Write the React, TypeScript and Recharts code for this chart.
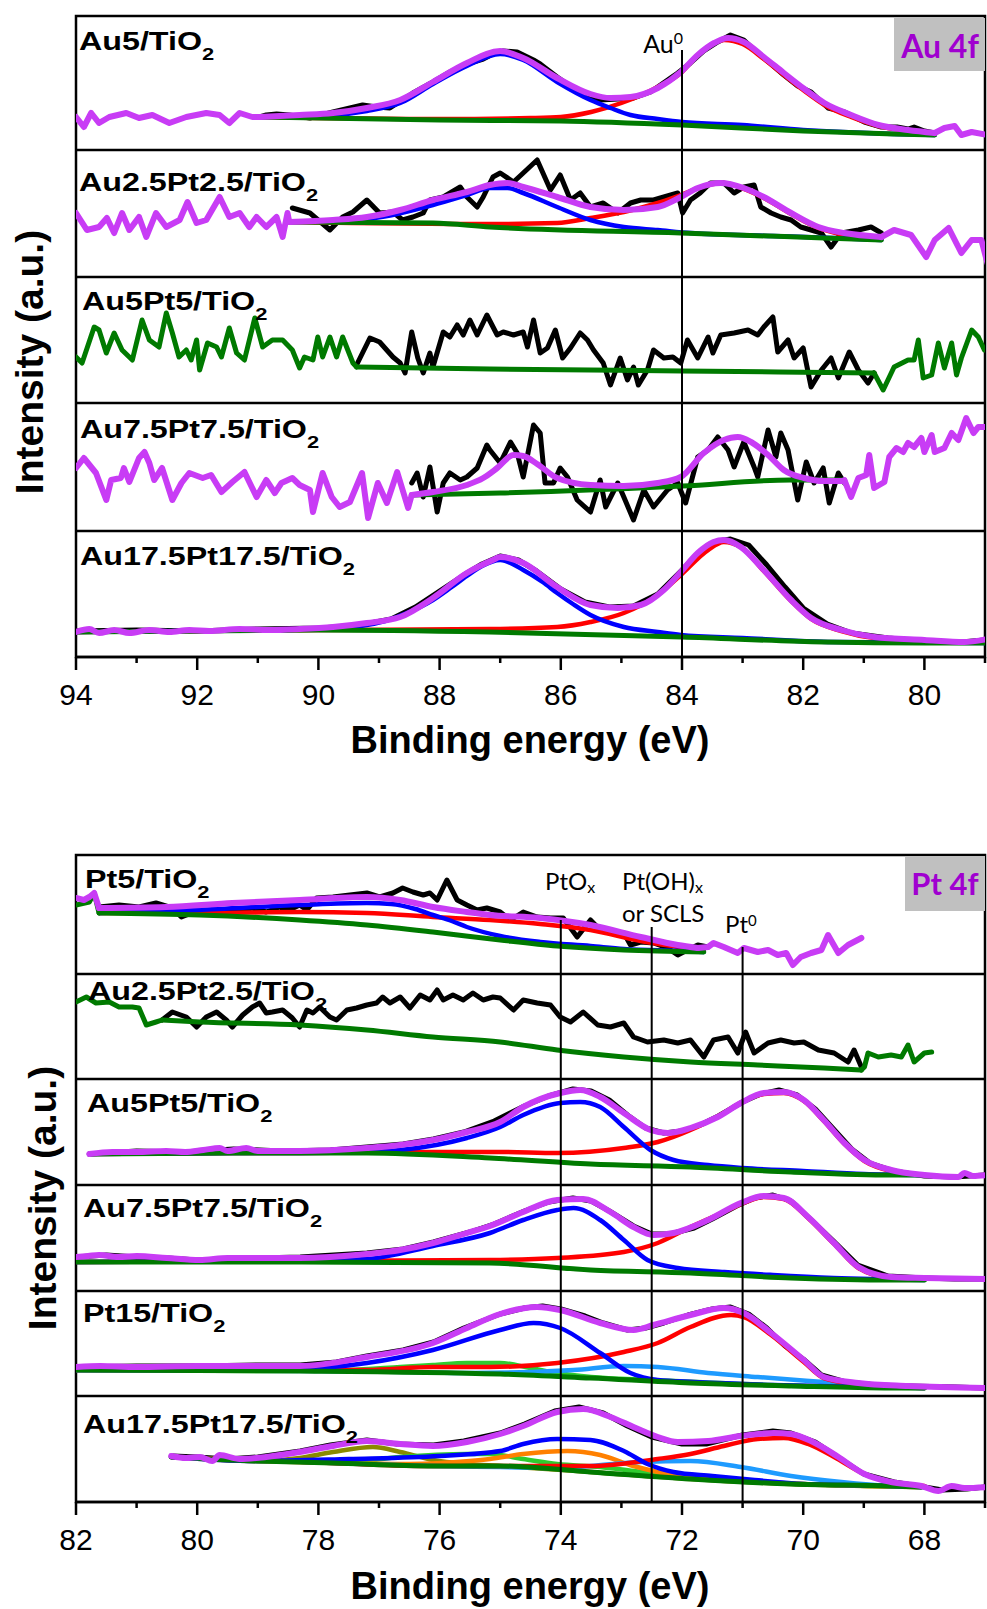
import React from "react"
import { LineChart, Line, XAxis, YAxis, ReferenceLine, ReferenceArea } from "recharts"

type Pt = [number, number]

// ---------- Au 4f panel (binding energy, intensity in px above each row's floor) ----------
const AU_TICKS = [79, 80, 81, 82, 83, 84, 85, 86, 87, 88, 89, 90, 91, 92, 93, 94]

// Au5/TiO2
const AU5_TAIL_L: Pt[] = [[94.0,33],[93.87,23],[93.75,37],[93.62,27],[93.45,33],[93.17,37],[92.96,32],[92.74,35],[92.46,27],[92.18,33],[91.85,37],[91.63,35],[91.47,27],[91.3,37],[91.09,33],[90.97,33]]
const AU5_ENV: Pt[] = [[90.97,33],[90.31,35],[89.76,37],[89.2,42],[88.65,50],[88.11,68],[87.55,87],[87.0,99],[86.62,92],[86.06,72],[85.51,56],[85.18,52],[84.85,53],[84.4,62],[84.02,78],[83.74,95],[83.47,107],[83.24,112],[82.98,108],[82.65,93],[82.32,77],[81.98,61],[81.65,47],[81.21,35],[80.76,25],[80.27,20],[79.83,17]]
const AU5_TAIL_R: Pt[] = [[79.83,17],[79.67,22],[79.5,24],[79.39,15],[79.22,18],[78.96,15]]
const AU5_RAW: Pt[] = [[90.97,33],[90.86,35],[90.69,36],[90.48,35],[90.14,32],[89.76,38],[89.48,42],[89.27,45],[89.04,43],[88.82,42],[88.44,57],[88.11,68],[87.83,78],[87.55,86],[87.28,91],[87.12,96],[86.95,99],[86.72,98],[86.45,90],[86.34,86],[86.06,73],[85.89,66],[85.56,55],[85.35,50],[85.06,51],[84.8,52],[84.52,58],[84.19,72],[84.07,77],[83.86,87],[83.64,99],[83.41,108],[83.2,115],[82.98,110],[82.75,97],[82.53,86],[82.32,75],[82.09,64],[81.87,58],[81.59,42],[81.32,38],[80.99,28],[80.71,23],[80.45,23],[80.27,21],[80.17,23],[80.0,19],[79.83,17]]
const AU5_BG: Pt[] = [[90.97,33],[88.0,30],[86.0,29],[84.0,25],[82.0,19],[80.5,16],[79.83,15]]
const AU5_RED: Pt[] = [[90.97,33],[88.0,31],[86.5,32],[86.0,33],[85.5,38],[85.0,47],[84.4,63],[84.0,78],[83.74,95],[83.5,106],[83.3,110],[83.0,106],[82.65,91],[82.32,75],[81.98,59],[81.65,45],[81.21,33],[80.76,24],[80.27,19],[79.83,16]]
const AU5_BLUE: Pt[] = [[90.97,33],[89.76,35],[89.2,39],[88.65,47],[88.11,66],[87.55,84],[87.0,96],[86.62,90],[86.06,68],[85.51,50],[85.18,42],[84.85,35],[84.4,31],[84.0,28],[83.0,25],[82.0,20],[80.5,16],[79.83,15]]

// Au2.5Pt2.5/TiO2
const AU25_TAIL_L: Pt[] = [[94.0,64],[93.82,47],[93.62,50],[93.49,59],[93.37,44],[93.24,64],[93.12,47],[92.96,60],[92.84,40],[92.68,64],[92.51,50],[92.29,57],[92.16,75],[92.01,54],[91.85,57],[91.63,80],[91.47,60],[91.3,64],[91.14,50],[91.02,60],[90.86,50],[90.69,60],[90.59,40],[90.51,64],[90.48,55]]
const AU25_ENV: Pt[] = [[90.48,55],[89.76,57],[89.2,60],[88.65,67],[88.11,77],[87.55,85],[87.17,92],[86.88,94],[86.62,90],[86.06,80],[85.51,70],[84.96,67],[84.4,70],[84.02,80],[83.74,89],[83.36,94],[82.98,89],[82.65,80],[82.2,64],[81.75,50],[81.32,44],[80.71,40]]
const AU25_TAIL_R: Pt[] = [[80.71,40],[80.5,47],[80.22,42],[79.97,20],[79.83,37],[79.6,49],[79.39,24],[79.22,37],[79.06,37],[78.96,14]]
const AU25_RAW: Pt[] = [[90.43,69],[90.14,64],[89.81,47],[89.6,60],[89.43,65],[89.2,77],[88.99,64],[88.77,65],[88.61,57],[88.44,60],[88.27,64],[88.16,77],[87.94,80],[87.66,90],[87.55,80],[87.38,70],[87.28,80],[87.12,100],[87.0,104],[86.78,95],[86.62,104],[86.39,117],[86.17,87],[86.01,102],[85.84,77],[85.68,84],[85.51,70],[85.3,74],[85.06,64],[84.85,74],[84.68,77],[84.47,77],[84.3,80],[84.07,84],[83.99,64],[83.86,77],[83.7,84],[83.53,94],[83.31,94],[83.14,84],[82.98,90],[82.81,92],[82.7,70],[82.53,64],[82.37,60],[82.2,57],[82.04,50],[81.87,47],[81.7,44],[81.54,30],[81.37,44],[81.09,47],[80.88,50],[80.71,44]]
const AU25_BG: Pt[] = [[90.48,55],[88.11,54],[87.17,50],[84.02,44],[81.65,39],[80.71,37]]
const AU25_RED: Pt[] = [[90.48,55],[87.17,53],[86.06,54],[85.51,59],[84.96,65],[84.4,74],[84.02,82],[83.57,92],[83.31,94],[82.98,88],[82.65,79],[82.2,63],[81.75,49],[81.32,42],[80.71,38]]
const AU25_BLUE: Pt[] = [[90.48,55],[89.2,58],[88.11,72],[87.55,82],[87.17,89],[86.88,89],[86.62,84],[86.06,70],[85.51,57],[84.96,50],[84.4,47],[83.86,44],[82.5,41],[81.5,39],[80.71,37]]

// Au5Pt5/TiO2
const AU55_TAIL_L: Pt[] = [[94.0,46],[93.9,40],[93.7,76],[93.62,73],[93.5,50],[93.37,70],[93.24,53],[93.07,43],[92.91,83],[92.79,63],[92.63,56],[92.51,90],[92.41,70],[92.3,46],[92.18,53],[92.1,43],[92.01,63],[91.96,33],[91.83,60],[91.68,56],[91.6,46],[91.47,75],[91.35,50],[91.22,43],[91.05,85],[90.92,56],[90.76,63],[90.59,63],[90.43,53],[90.31,35],[90.23,46],[90.09,43],[90.01,66],[89.93,46],[89.81,66],[89.7,46],[89.6,66],[89.43,40],[89.37,36]]
const AU55_BG: Pt[] = [[89.37,36],[87.17,34],[84.0,32],[80.83,30]]
const AU55_TAIL_R: Pt[] = [[80.83,30],[80.68,13],[80.5,36],[80.27,43],[80.17,43],[80.1,63],[80.02,25],[79.88,28],[79.77,60],[79.67,35],[79.55,60],[79.47,28],[79.39,45],[79.22,73],[79.11,66],[79.01,53],[78.96,56]]
const AU55_RAW: Pt[] = [[89.37,38],[89.15,65],[88.99,61],[88.77,46],[88.65,40],[88.57,30],[88.46,71],[88.36,45],[88.27,30],[88.16,50],[88.11,36],[87.94,71],[87.83,66],[87.71,78],[87.61,68],[87.5,83],[87.38,68],[87.22,88],[87.05,68],[86.95,71],[86.78,68],[86.62,71],[86.55,56],[86.45,83],[86.34,50],[86.22,55],[86.09,73],[85.97,45],[85.84,55],[85.68,70],[85.56,63],[85.46,53],[85.3,40],[85.18,18],[85.02,45],[84.9,23],[84.8,36],[84.72,18],[84.57,33],[84.47,53],[84.3,45],[84.15,46],[84.02,40],[83.91,63],[83.74,45],[83.57,66],[83.49,50],[83.36,68],[83.14,70],[82.91,73],[82.75,68],[82.65,76],[82.5,86],[82.42,51],[82.25,63],[82.15,45],[82.0,55],[81.87,16],[81.7,33],[81.54,45],[81.42,25],[81.24,51],[81.09,33],[80.93,20],[80.83,30]]

// Au7.5Pt7.5/TiO2
const AU75_TAIL_L: Pt[] = [[94.0,63],[93.87,73],[93.67,58],[93.5,31],[93.42,51],[93.26,53],[93.21,63],[93.12,49],[92.96,73],[92.87,79],[92.79,68],[92.71,51],[92.58,63],[92.41,31],[92.26,48],[92.13,58],[91.91,53],[91.77,56],[91.6,39],[91.42,49],[91.22,59],[91.02,34],[90.86,51],[90.72,38],[90.61,48],[90.43,53],[90.31,46],[90.14,41],[90.09,19],[89.93,58],[89.78,34],[89.65,24],[89.48,29],[89.28,58],[89.18,13],[89.02,48],[88.87,28],[88.7,59],[88.52,23],[88.46,36]]
const AU75_ENV: Pt[] = [[88.46,36],[88.11,39],[87.55,46],[87.28,53],[87.05,63],[86.78,76],[86.62,75],[86.39,67],[86.06,53],[85.51,46],[84.96,45],[84.4,48],[84.02,54],[83.64,78],[83.31,91],[83.08,94],[82.86,89],[82.58,76],[82.32,61],[81.99,53],[81.66,50],[81.32,50]]
const AU75_TAIL_R: Pt[] = [[81.32,51],[81.21,34],[81.09,53],[80.96,56],[80.91,76],[80.83,43],[80.66,49],[80.58,74],[80.46,83],[80.35,79],[80.27,88],[80.17,84],[80.05,93],[80.0,79],[79.88,96],[79.83,79],[79.67,83],[79.55,98],[79.44,91],[79.31,113],[79.19,98],[79.11,104],[78.96,104]]
const AU75_RAW: Pt[] = [[88.46,48],[88.37,58],[88.27,34],[88.16,64],[88.04,19],[87.94,48],[87.83,58],[87.66,51],[87.55,54],[87.38,63],[87.22,86],[87.17,81],[87.0,68],[86.83,89],[86.72,78],[86.62,54],[86.45,106],[86.34,98],[86.26,48],[86.12,48],[86.01,63],[85.89,54],[85.73,31],[85.51,19],[85.35,51],[85.26,24],[85.06,48],[84.96,34],[84.8,11],[84.63,41],[84.47,24],[84.24,41],[84.07,48],[83.94,28],[83.74,74],[83.57,81],[83.41,94],[83.24,81],[83.14,64],[82.98,89],[82.81,64],[82.75,54],[82.58,101],[82.45,74],[82.37,98],[82.25,81],[82.09,31],[81.95,69],[81.82,48],[81.67,63],[81.57,28],[81.42,58],[81.32,48]]
const AU75_BG: Pt[] = [[88.46,36],[87.0,38],[84.0,45],[82.2,51],[81.32,51]]

// Au17.5Pt17.5/TiO2
const AU175_ENV: Pt[] = [[94.0,25],[93.78,28],[93.62,24],[93.37,27],[93.12,24],[92.79,27],[92.46,25],[92.13,27],[91.8,26],[91.3,28],[90.81,27],[90.31,28],[89.76,30],[89.2,34],[88.65,40],[88.11,59],[87.55,84],[87.12,97],[87.0,100],[86.62,94],[86.06,70],[85.51,52],[85.06,49],[84.68,52],[84.3,67],[84.02,85],[83.74,104],[83.48,115],[83.31,117],[83.03,110],[82.65,87],[82.2,57],[81.87,39],[81.37,27],[80.83,20],[80.0,17],[79.34,15],[78.96,18]]
const AU175_RAW: Pt[] = [[94.0,26],[93.0,27],[92.0,26],[91.0,28],[90.0,29],[89.4,31],[88.8,38],[88.4,50],[88.0,66],[87.6,82],[87.3,93],[87.0,101],[86.7,97],[86.4,86],[86.0,68],[85.6,55],[85.2,50],[84.8,51],[84.4,63],[84.0,87],[83.7,106],[83.4,116],[83.2,118],[82.9,112],[82.6,92],[82.3,70],[82.0,49],[81.6,33],[81.2,24],[80.6,19],[80.0,16],[79.4,15],[79.0,17]]
const AU175_BG: Pt[] = [[94.0,25],[90.0,27],[87.17,25],[84.0,20],[81.66,15],[80.0,14],[79.0,14]]
const AU175_RED: Pt[] = [[94.0,25],[90.0,27],[87.17,28],[86.06,30],[85.51,35],[84.96,44],[84.4,62],[84.02,82],[83.57,107],[83.31,115],[83.03,110],[82.65,86],[82.2,56],[81.87,38],[81.37,26],[80.83,19],[80.0,16],[79.0,15]]
const AU175_BLUE: Pt[] = [[94.0,25],[90.5,27],[89.8,29],[89.3,31],[88.9,36],[88.5,45],[88.11,57],[87.8,70],[87.55,81],[87.3,91],[87.0,97],[86.62,87],[86.3,75],[86.06,64],[85.8,53],[85.51,42],[84.96,30],[84.4,25],[84.02,22],[83.0,19],[81.5,15],[79.0,14]]

// ---------- Pt 4f panel ----------
const PT_TICKS = [67, 68, 69, 70, 71, 72, 73, 74, 75, 76, 77, 78, 79, 80, 81, 82]

// Pt5/TiO2
const PT5_TAIL_L: Pt[] = [[82.0,76],[81.87,74],[81.78,77],[81.7,81],[81.62,66]]
const PT5_BG_L: Pt[] = [[82.0,69],[81.78,72],[81.7,81],[81.62,61]]
const PT5_ENV: Pt[] = [[81.62,66],[80.51,67],[79.42,71],[78.31,74],[77.2,77],[76.65,74],[76.11,67],[75.55,62],[75.17,59],[74.34,56],[73.51,49],[72.68,37],[72.07,29],[71.74,26]]
const PT5_TAIL_R: Pt[] = [[71.74,26],[71.57,27],[71.48,31],[71.31,27],[71.08,21],[70.98,26],[70.75,22],[70.58,24],[70.42,19],[70.28,21],[70.17,9],[70.04,17],[69.87,21],[69.7,24],[69.59,39],[69.42,21],[69.26,29],[69.04,36]]
const PT5_RAW: Pt[] = [[81.62,67],[81.29,69],[80.96,67],[80.68,71],[80.41,66],[80.26,57],[79.96,64],[79.42,62],[79.09,66],[78.86,62],[78.64,67],[78.48,64],[78.31,69],[78.19,64],[78.03,76],[77.76,77],[77.48,79],[77.2,81],[76.99,77],[76.77,81],[76.61,86],[76.44,82],[76.27,79],[76.16,81],[76.04,74],[75.88,94],[75.71,74],[75.55,69],[75.38,64],[75.22,66],[75.0,62],[74.83,54],[74.62,62],[74.39,57],[74.17,56],[73.96,56],[73.73,37],[73.51,54],[73.35,44],[73.18,42],[72.96,41],[72.85,29],[72.68,32],[72.47,31],[72.24,26],[72.07,19],[71.91,24],[71.74,29],[71.57,27]]
const PT5_BG: Pt[] = [[81.62,61],[79.96,59],[78.31,54],[77.2,49],[76.11,42],[75.0,34],[74.06,28],[72.96,24],[71.64,22]]
const PT5_RED: Pt[] = [[81.62,61],[79.96,61],[78.31,62],[77.2,61],[76.11,57],[75.17,54],[74.34,50],[73.51,44],[72.68,33],[72.07,27],[71.64,23]]
const PT5_BLUE: Pt[] = [[81.62,61],[80.0,64],[78.31,69],[77.2,71],[76.8,70],[76.4,65],[76.11,59],[75.8,53],[75.55,47],[75.0,38],[74.34,32],[73.51,28],[72.96,25],[72.0,23],[71.64,22]]

// Au2.5Pt2.5/TiO2
const PT25_BG_L: Pt[] = [[82.0,77],[81.83,82],[81.67,76],[81.45,77],[81.29,72],[81.07,72],[80.96,71],[80.84,54],[80.68,57],[80.58,59]]
const PT25_BG: Pt[] = [[80.58,59],[79.96,57],[78.31,54],[77.2,49],[76.11,42],[75.0,37],[74.06,29],[72.96,22],[71.86,17],[70.75,14],[69.66,11],[69.04,9]]
const PT25_BG_R: Pt[] = [[69.04,9],[68.99,12],[68.93,26],[68.76,22],[68.55,24],[68.38,22],[68.27,34],[68.17,17],[68.0,26],[67.88,27]]
const PT25_RAW: Pt[] = [[80.58,59],[80.41,67],[80.18,62],[80.01,52],[79.85,62],[79.68,67],[79.52,59],[79.42,52],[79.25,64],[79.09,72],[78.97,76],[78.86,66],[78.76,67],[78.59,69],[78.43,61],[78.31,52],[78.19,69],[78.09,66],[77.98,72],[77.81,62],[77.7,59],[77.53,69],[77.37,71],[77.2,74],[77.04,76],[76.94,82],[76.82,76],[76.65,82],[76.49,71],[76.32,84],[76.16,79],[76.04,89],[75.94,79],[75.78,84],[75.61,79],[75.45,86],[75.28,79],[75.12,82],[75.0,81],[74.78,69],[74.62,79],[74.39,76],[74.17,74],[74.01,62],[73.84,57],[73.63,67],[73.39,54],[73.18,52],[72.96,56],[72.8,42],[72.57,37],[72.3,39],[72.07,36],[71.86,39],[71.64,22],[71.48,39],[71.24,42],[71.08,26],[70.95,47],[70.81,26],[70.58,36],[70.37,39],[70.15,36],[69.99,37],[69.75,29],[69.49,26],[69.26,17],[69.16,29],[69.04,12]]

// Au5Pt5/TiO2
const PT55_ENV: Pt[] = [[81.78,31],[81.4,33],[81.0,33],[80.51,34],[80.2,33],[79.9,35],[79.63,37],[79.5,34],[79.19,37],[79.0,34],[78.31,34],[77.2,37],[76.65,40],[76.11,45],[75.55,53],[75.0,63],[74.62,78],[74.01,92],[73.68,95],[73.35,88],[72.96,72],[72.52,55],[72.24,52],[71.86,57],[71.41,68],[71.03,82],[70.65,92],[70.32,93],[69.99,85],[69.66,65],[69.32,42],[68.99,25],[68.55,15],[68.0,10],[67.44,8],[67.34,12],[67.2,9],[66.96,10]]
const PT55_RAW: Pt[] = [[81.78,31],[81.0,34],[80.2,33],[79.4,36],[78.6,34],[77.8,35],[77.2,38],[76.6,41],[76.1,46],[75.6,53],[75.1,64],[74.6,79],[74.2,89],[73.8,96],[73.5,94],[73.2,85],[72.9,70],[72.6,57],[72.3,52],[72.0,54],[71.7,60],[71.4,69],[71.0,83],[70.7,91],[70.4,95],[70.1,90],[69.8,76],[69.5,56],[69.2,36],[68.9,22],[68.5,14],[68.0,9],[67.5,8],[67.0,10]]
const PT55_BG: Pt[] = [[81.78,31],[79.42,32],[77.2,32],[75.17,27],[73.51,21],[71.86,18],[70.2,13],[68.55,10],[68.0,10]]
const PT55_RED: Pt[] = [[81.78,31],[79.42,32],[78.31,32],[76.11,33],[75.0,33],[74.06,32],[72.96,37],[72.4,43],[71.86,55],[71.31,72],[70.98,84],[70.65,91],[70.32,92],[69.99,84],[69.66,64],[69.32,41],[68.99,24],[68.55,14],[68.0,10]]
const PT55_BLUE: Pt[] = [[81.78,31],[79.42,32],[78.31,32],[77.2,33],[76.65,35],[75.55,47],[75.0,58],[74.62,70],[74.01,82],[73.68,83],[73.35,78],[72.96,58],[72.52,35],[72.14,25],[71.57,20],[71.0,17],[70.0,14],[69.0,11],[68.0,10]]

// Au7.5Pt7.5/TiO2
const PT75_ENV: Pt[] = [[82.0,34],[81.8,35],[81.62,36],[81.3,34],[81.0,35],[80.5,33],[79.96,31],[79.5,33],[78.31,33],[77.2,37],[76.65,41],[76.11,48],[75.55,58],[75.17,65],[74.62,79],[74.06,91],[73.63,92],[73.18,79],[72.8,64],[72.47,56],[72.14,58],[71.57,71],[71.03,88],[70.65,95],[70.32,93],[69.92,74],[69.49,48],[69.09,24],[68.55,14],[68.0,13],[66.96,12]]
const PT75_RAW: Pt[] = [[82.0,34],[81.5,36],[81.0,34],[80.5,33],[80.0,31],[79.0,33],[78.3,34],[77.2,38],[76.6,42],[76.1,49],[75.5,59],[75.1,67],[74.6,80],[74.2,89],[73.8,93],[73.5,90],[73.2,80],[72.8,65],[72.5,57],[72.2,57],[71.8,63],[71.5,72],[71.1,85],[70.8,93],[70.5,96],[70.2,90],[69.9,73],[69.5,50],[69.1,26],[68.6,15],[68.0,13],[67.5,12],[67.0,12]]
const PT75_BG: Pt[] = [[82.0,29],[78.31,29],[75.17,28],[73.51,21],[71.86,18],[70.2,13],[68.55,11],[68.0,11]]
const PT75_RED: Pt[] = [[82.0,29],[78.31,30],[75.17,31],[74.06,33],[72.96,39],[72.4,48],[71.86,64],[71.31,79],[70.98,88],[70.65,94],[70.32,92],[69.92,73],[69.49,47],[69.09,23],[68.55,13],[68.0,12]]
const PT75_BLUE: Pt[] = [[82.0,29],[78.31,30],[77.2,32],[76.11,45],[75.17,58],[74.62,71],[74.06,81],[73.79,83],[73.35,71],[72.96,51],[72.57,31],[72.07,23],[71.3,19],[70.5,16],[69.5,13],[68.0,11]]

// Pt15/TiO2
const PT15_ENV: Pt[] = [[82.0,29],[81.6,30],[81.0,29],[80.0,30],[79.0,30],[78.31,30],[77.2,39],[76.11,53],[75.55,68],[75.0,82],[74.39,89],[74.01,86],[73.35,73],[72.8,66],[72.47,71],[71.86,81],[71.31,88],[70.98,83],[70.53,63],[69.99,36],[69.66,19],[69.09,13],[68.27,10],[66.96,8]]
const PT15_RAW: Pt[] = [[82.0,29],[81.0,30],[80.0,30],[79.0,31],[78.3,31],[77.7,34],[77.2,40],[76.6,46],[76.1,54],[75.6,68],[75.0,82],[74.6,88],[74.3,90],[74.0,87],[73.6,80],[73.3,73],[72.9,66],[72.6,68],[72.3,73],[71.9,81],[71.5,87],[71.2,89],[70.9,82],[70.6,68],[70.3,50],[70.0,37],[69.7,21],[69.3,14],[68.8,11],[68.3,10],[67.5,9],[67.0,8]]
const PT15_BG: Pt[] = [[82.0,26],[78.31,25],[75.0,22],[73.51,18],[71.86,13],[70.2,10],[68.55,8],[68.0,8]]
const PT15_RED: Pt[] = [[82.0,26],[79.0,26],[77.2,26],[76.11,29],[75.17,29],[74.06,33],[72.96,44],[72.4,53],[71.86,69],[71.19,81],[70.98,79],[70.53,61],[69.99,34],[69.66,18],[69.09,12],[68.5,9],[68.0,8]]
const PT15_BLUE: Pt[] = [[82.0,26],[79.5,26],[78.31,27],[77.2,33],[76.11,46],[75.0,66],[74.45,73],[74.01,68],[73.35,43],[72.85,23],[72.4,16],[71.8,14],[70.5,11],[69.0,9],[68.0,8]]
const PT15_CYAN: Pt[] = [[82.0,26],[78.0,25],[76.5,24],[75.5,23],[74.5,24],[73.79,26],[72.96,30],[72.4,29],[71.57,23],[70.75,19],[69.66,14],[69.0,11],[68.5,9],[68.0,8]]
const PT15_LIME: Pt[] = [[82.0,26],[79.0,25],[77.5,26],[76.65,29],[76.11,31],[75.55,33],[75.0,33],[74.5,28],[74.06,23],[73.5,19],[72.5,16],[71.0,12],[68.0,8]]

// Au17.5Pt17.5/TiO2
const PT175_ENV: Pt[] = [[80.43,46],[80.18,44],[79.96,45],[79.75,41],[79.63,47],[79.3,43],[78.86,45],[78.31,50],[77.76,56],[77.2,61],[76.65,58],[76.11,56],[75.55,60],[75.0,68],[74.62,76],[74.06,90],[73.63,93],[73.18,85],[72.8,75],[72.4,65],[72.07,60],[71.57,61],[71.03,66],[70.48,69],[70.2,68],[69.87,61],[69.42,45],[68.99,28],[68.55,20],[68.05,16],[67.77,11],[67.55,16],[67.34,14],[66.96,15]]
const PT175_RAW: Pt[] = [[80.4,46],[80.0,45],[79.5,43],[79.0,45],[78.3,51],[77.8,57],[77.2,62],[76.7,58],[76.1,57],[75.6,61],[75.0,69],[74.6,78],[74.1,91],[73.7,95],[73.3,89],[72.9,76],[72.5,65],[72.0,58],[71.6,58],[71.0,67],[70.5,71],[70.2,69],[69.8,60],[69.4,44],[69.0,28],[68.5,20],[68.0,15],[67.7,12],[67.3,13],[67.0,15]]
const PT175_BG: Pt[] = [[80.43,45],[79.0,41],[77.76,39],[76.11,36],[75.0,36],[73.51,30],[71.86,23],[70.2,18],[68.55,16],[68.05,15]]
const PT175_OLIVE: Pt[] = [[80.43,45],[79.0,41],[78.31,44],[77.76,50],[77.1,55],[76.65,50],[76.11,42],[75.55,38],[75.0,36],[73.51,30],[71.86,23],[70.2,18],[68.05,15]]
const PT175_BLUE: Pt[] = [[80.43,45],[79.0,41],[77.5,43],[76.0,46],[75.0,51],[74.62,58],[74.06,63],[73.51,62],[72.96,51],[72.57,38],[72.14,30],[71.5,26],[70.8,22],[70.0,18],[68.5,16],[68.05,15]]
const PT175_ORANGE: Pt[] = [[80.43,45],[79.0,41],[77.76,39],[76.5,38],[75.5,41],[75.17,43],[74.62,48],[73.89,51],[73.35,47],[72.8,36],[72.4,30],[72.07,26],[71.7,24],[71.0,21],[70.0,18],[68.05,15]]
const PT175_LIME: Pt[] = [[80.43,45],[79.0,41],[77.5,40],[76.65,45],[75.55,48],[75.17,48],[74.62,43],[74.06,38],[73.35,35],[72.8,31],[72.0,26],[71.0,21],[70.0,18],[68.05,15]]
const PT175_RED: Pt[] = [[80.43,45],[77.76,39],[76.11,36],[75.0,36],[73.51,36],[72.4,43],[71.86,48],[71.31,56],[70.75,63],[70.32,64],[69.92,58],[69.49,45],[68.99,28],[68.55,20],[68.0,16]]
const PT175_CYAN: Pt[] = [[80.43,45],[77.76,39],[76.11,36],[75.0,35],[74.0,34],[73.51,36],[72.68,40],[71.86,41],[71.03,35],[70.2,26],[69.37,20],[68.55,16],[68.0,15]]

// ---------- styling ----------
const MAG = "#c83cf5"
const GREEN = "#007a00"
const ARIAL = "'Liberation Sans', Arial, sans-serif"
const CALIBRI = "Lato, 'Open Sans', sans-serif"

type Kind = "raw" | "bgRaw" | "bg" | "olive" | "lime" | "orange" | "cyan" | "red" | "blue" | "tail" | "env"
const STYLES: Record<Kind, { color: string; width: number; curve: "linear" | "monotone" }> = {
    raw: { color: "#000", width: 5, curve: "linear" },
    bgRaw: { color: GREEN, width: 5, curve: "linear" },
    bg: { color: GREEN, width: 5, curve: "monotone" },
    olive: { color: "#8a8a00", width: 4.5, curve: "monotone" },
    lime: { color: "#2fcc2f", width: 4.5, curve: "monotone" },
    orange: { color: "#ff8000", width: 4.5, curve: "monotone" },
    cyan: { color: "#1e9bff", width: 4.5, curve: "monotone" },
    red: { color: "#ff0000", width: 4.5, curve: "monotone" },
    blue: { color: "#0000ff", width: 4.5, curve: "monotone" },
    tail: { color: MAG, width: 6, curve: "linear" },
    env: { color: MAG, width: 6, curve: "monotone" },
}
// components first, background on top of them, fitted envelope last
const KIND_ORDER: Kind[] = ["raw", "olive", "lime", "orange", "cyan", "red", "blue", "bg", "bgRaw", "tail", "env"]

interface Row { offset: number; series: [Pt[], Kind][] }

const AU_ROWS: Row[] = [
    { offset: 507, series: [[AU5_RAW, "raw"], [AU5_BG, "bg"], [AU5_RED, "red"], [AU5_BLUE, "blue"], [AU5_TAIL_L, "tail"], [AU5_TAIL_R, "tail"], [AU5_ENV, "env"]] },
    { offset: 380, series: [[AU25_RAW, "raw"], [AU25_BG, "bg"], [AU25_RED, "red"], [AU25_BLUE, "blue"], [AU25_TAIL_L, "tail"], [AU25_TAIL_R, "tail"], [AU25_ENV, "env"]] },
    { offset: 254, series: [[AU55_RAW, "raw"], [AU55_TAIL_L, "bgRaw"], [AU55_TAIL_R, "bgRaw"], [AU55_BG, "bg"]] },
    { offset: 126, series: [[AU75_RAW, "raw"], [AU75_BG, "bg"], [AU75_TAIL_L, "tail"], [AU75_TAIL_R, "tail"], [AU75_ENV, "env"]] },
    { offset: 0, series: [[AU175_RAW, "raw"], [AU175_BG, "bg"], [AU175_RED, "red"], [AU175_BLUE, "blue"], [AU175_ENV, "env"]] },
]

const PT_ROWS: Row[] = [
    { offset: 528, series: [[PT5_RAW, "raw"], [PT5_BG_L, "bgRaw"], [PT5_BG, "bg"], [PT5_RED, "red"], [PT5_BLUE, "blue"], [PT5_TAIL_L, "tail"], [PT5_TAIL_R, "tail"], [PT5_ENV, "env"]] },
    { offset: 423, series: [[PT25_RAW, "raw"], [PT25_BG_L, "bgRaw"], [PT25_BG_R, "bgRaw"], [PT25_BG, "bg"]] },
    { offset: 317, series: [[PT55_RAW, "raw"], [PT55_BG, "bg"], [PT55_RED, "red"], [PT55_BLUE, "blue"], [PT55_ENV, "env"]] },
    { offset: 211, series: [[PT75_RAW, "raw"], [PT75_BG, "bg"], [PT75_RED, "red"], [PT75_BLUE, "blue"], [PT75_ENV, "env"]] },
    { offset: 106, series: [[PT15_RAW, "raw"], [PT15_BG, "bg"], [PT15_LIME, "lime"], [PT15_CYAN, "cyan"], [PT15_RED, "red"], [PT15_BLUE, "blue"], [PT15_ENV, "env"]] },
    { offset: 0, series: [[PT175_RAW, "raw"], [PT175_BG, "bg"], [PT175_OLIVE, "olive"], [PT175_LIME, "lime"], [PT175_ORANGE, "orange"], [PT175_CYAN, "cyan"], [PT175_RED, "red"], [PT175_BLUE, "blue"], [PT175_ENV, "env"]] },
]

function EnergyTick(props: any) {
    const { x, y, payload } = props
    const major = payload.value % 2 === 0
    return (
        <g>
            <line x1={x} x2={x} y1={y} y2={y + (major ? 13 : 6)} stroke="#000" strokeWidth={2.5} />
            {major && (
                <text x={x} y={y + 48} textAnchor="middle" fontSize={30} fontFamily={ARIAL} fill="#000">
                    {payload.value}
                </text>
            )}
        </g>
    )
}

interface PanelProps {
    rows: Row[]
    domain: [number, number]
    ticks: number[]
    plotHeight: number
    marginTop: number
    top: number
    marks: { e: number; top: number }[]
}

function SpectraPanel({ rows, domain, ticks, plotHeight, marginTop, top, marks }: PanelProps) {
    const lines: { key: string; kind: Kind; data: { e: number; v: number }[] }[] = []
    rows.forEach((row, r) =>
        row.series.forEach(([pts, kind], s) =>
            lines.push({ key: `r${r}s${s}`, kind, data: pts.map(([e, v]) => ({ e, v: v + row.offset })) })
        )
    )
    lines.sort((a, b) => KIND_ORDER.indexOf(a.kind) - KIND_ORDER.indexOf(b.kind))
    const bounds = rows.slice(0, -1).map(r => r.offset)

    return (
        <div style={{ position: "absolute", left: 0, top }}>
            <LineChart width={987} height={marginTop + plotHeight + 63} margin={{ top: marginTop, right: 2, bottom: 0, left: 76 }}>
                <XAxis
                    type="number"
                    dataKey="e"
                    domain={domain}
                    reversed
                    allowDataOverflow
                    ticks={ticks}
                    interval={0}
                    tickSize={0}
                    tickMargin={0}
                    tickLine={false}
                    tick={<EnergyTick />}
                    axisLine={{ stroke: "#000", strokeWidth: 2.5 }}
                    height={63}
                />
                <YAxis hide type="number" domain={[0, plotHeight]} allowDataOverflow />
                {lines.map(l => {
                    const st = STYLES[l.kind]
                    return (
                        <Line
                            key={l.key}
                            data={l.data}
                            dataKey="v"
                            type={st.curve}
                            stroke={st.color}
                            strokeWidth={st.width}
                            strokeLinejoin="round"
                            strokeLinecap="round"
                            dot={false}
                            activeDot={false}
                            isAnimationActive={false}
                        />
                    )
                })}
                {bounds.map(b => (
                    <ReferenceLine key={`b${b}`} y={b} stroke="#000" strokeWidth={2.5} />
                ))}
                {marks.map(m => (
                    <ReferenceLine key={`m${m.e}`} segment={[{ x: m.e, y: 0 }, { x: m.e, y: m.top }]} stroke="#000" strokeWidth={2} />
                ))}
                <ReferenceArea x1={domain[0]} x2={domain[1]} y1={0} y2={plotHeight} fill="none" fillOpacity={0} stroke="#000" strokeWidth={2.5} />
            </LineChart>
        </div>
    )
}

function RowLabel({ x, y, text }: { x: number; y: number; text: string }) {
    return (
        <text transform={`translate(${x},${y}) scale(1.29,1)`} fontSize={25} fontWeight="bold" fontFamily={ARIAL} fill="#000">
            {text}
            <tspan fontSize={17} dy={10}>2</tspan>
        </text>
    )
}

const AU_LABELS = [
    { x: 79, y: 50, text: "Au5/TiO" },
    { x: 79, y: 191, text: "Au2.5Pt2.5/TiO" },
    { x: 82, y: 310, text: "Au5Pt5/TiO" },
    { x: 80, y: 438, text: "Au7.5Pt7.5/TiO" },
    { x: 80, y: 565, text: "Au17.5Pt17.5/TiO" },
]
const PT_LABELS = [
    { x: 85, y: 888, text: "Pt5/TiO" },
    { x: 88, y: 1000, text: "Au2.5Pt2.5/TiO" },
    { x: 87, y: 1112, text: "Au5Pt5/TiO" },
    { x: 83, y: 1217, text: "Au7.5Pt7.5/TiO" },
    { x: 83, y: 1322, text: "Pt15/TiO" },
    { x: 83, y: 1433, text: "Au17.5Pt17.5/TiO" },
]

export default function App() {
    return (
        <div style={{ position: "absolute", left: 0, top: 0, width: 987, height: 1609, background: "#fff" }}>
            <SpectraPanel rows={AU_ROWS} domain={[79, 94]} ticks={AU_TICKS} plotHeight={641} marginTop={16} top={0} marks={[{ e: 84, top: 607 }]} />
            <SpectraPanel
                rows={PT_ROWS}
                domain={[67, 82]}
                ticks={PT_TICKS}
                plotHeight={647}
                marginTop={55}
                top={800}
                marks={[{ e: 74, top: 582 }, { e: 72.5, top: 575 }, { e: 71, top: 555 }]}
            />
            <svg width={987} height={1609} style={{ position: "absolute", left: 0, top: 0, pointerEvents: "none" }}>
                {AU_LABELS.map(l => <RowLabel key={`a${l.y}`} {...l} />)}
                {PT_LABELS.map(l => <RowLabel key={`p${l.y}`} {...l} />)}

                <rect x={894} y={18} width={91} height={53} fill="#c0c0c0" />
                <text x={940} y={58} textAnchor="middle" fontSize={32} fontWeight="bold" fontFamily={CALIBRI} fill="#a000d0">Au 4f</text>
                <rect x={905} y={856} width={80} height={55} fill="#c0c0c0" />
                <text x={945} y={895} textAnchor="middle" fontSize={31} fontWeight="bold" fontFamily={CALIBRI} fill="#a000d0">Pt 4f</text>

                <text x={683} y={53} textAnchor="end" fontSize={25} fontFamily={CALIBRI} fill="#000">
                    Au<tspan fontSize={16} dy={-9}>0</tspan>
                </text>
                <text x={545} y={890} fontSize={24} fontFamily={CALIBRI} fill="#000">
                    PtO<tspan fontSize={16} dy={3}>x</tspan>
                </text>
                <text x={622} y={890} fontSize={24} fontFamily={CALIBRI} fill="#000">
                    Pt(OH)<tspan fontSize={16} dy={3}>x</tspan>
                </text>
                <text x={622} y={922} fontSize={24} fontFamily={CALIBRI} fill="#000">or SCLS</text>
                <text x={725} y={933} fontSize={24} fontFamily={CALIBRI} fill="#000">
                    Pt<tspan fontSize={15} dy={-7}>0</tspan>
                </text>

                <text x={43} y={362} transform="rotate(-90 43 362)" textAnchor="middle" fontSize={39} fontWeight="bold" fontFamily={ARIAL} fill="#000">
                    Intensity (a.u.)
                </text>
                <text x={56} y={1198} transform="rotate(-90 56 1198)" textAnchor="middle" fontSize={39} fontWeight="bold" fontFamily={ARIAL} fill="#000">
                    Intensity (a.u.)
                </text>
                <text x={530} y={753} textAnchor="middle" fontSize={38} fontWeight="bold" fontFamily={ARIAL} fill="#000">
                    Binding energy (eV)
                </text>
                <text x={530} y={1599} textAnchor="middle" fontSize={38} fontWeight="bold" fontFamily={ARIAL} fill="#000">
                    Binding energy (eV)
                </text>
            </svg>
        </div>
    )
}
